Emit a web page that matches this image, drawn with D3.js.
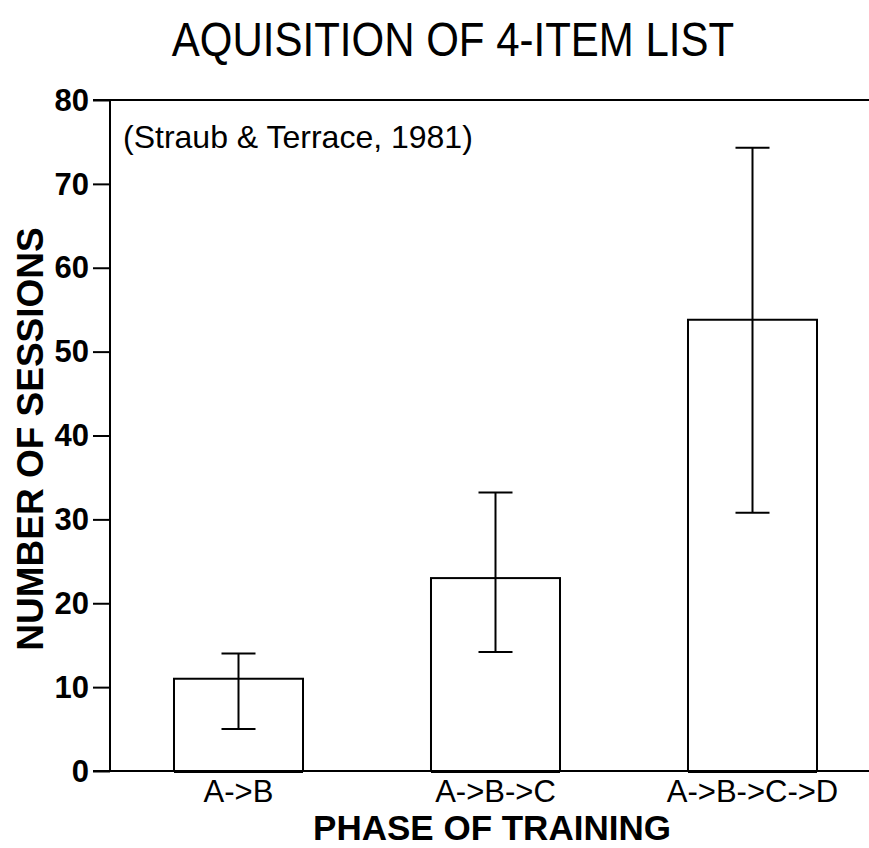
<!DOCTYPE html>
<head>
  <meta charset="utf-8">
  <script src="https://d3js.org/d3.v7.min.js"></script>
  <style>
    body { margin:0; background:#fff; }
    text { font-family: "Liberation Sans", Arial, sans-serif; fill:#000; }
  </style>
</head>

<body>
  <script>
    var phases = ['A->B', 'A->B->C', 'A->B->C->D'];
    var sessions = [11, 23, 53.8];
    var errLow = [5, 14.2, 30.8];
    var errHigh = [14, 33.2, 74.3];
    var yTicks = [0, 10, 20, 30, 40, 50, 60, 70, 80];

    var width = 869,
        height = 848;

    var svg = d3.select('body').append('svg')
      .attr('width', width)
      .attr('height', height);

    var x = d3.scaleBand()
      .domain(phases)
      .range([110, 881])
      .paddingInner(0.498)
      .paddingOuter(0.249);

    var y = d3.scaleLinear()
      .domain([0, 80])
      .range([771, 100]);

    // bars
    svg.selectAll('.bar')
      .data(phases)
      .enter().append('rect')
      .attr('class', 'bar')
      .attr('x', function(d) { return x(d); })
      .attr('y', function(d, i) { return y(sessions[i]); })
      .attr('width', x.bandwidth())
      .attr('height', function(d, i) { return y(0) - y(sessions[i]); })
      .style('fill', 'none')
      .style('stroke', '#000')
      .style('stroke-width', 2);

    // error bars
    var capW = 34;
    var eb = svg.selectAll('.err')
      .data(phases)
      .enter().append('g')
      .attr('class', 'err')
      .style('stroke', '#000')
      .style('stroke-width', 2);

    eb.append('line')
      .attr('x1', function(d) { return x(d) + x.bandwidth() / 2; })
      .attr('x2', function(d) { return x(d) + x.bandwidth() / 2; })
      .attr('y1', function(d, i) { return y(errLow[i]); })
      .attr('y2', function(d, i) { return y(errHigh[i]); });

    [errLow, errHigh].forEach(function(arr) {
      eb.append('line')
        .attr('x1', function(d) { return x(d) + x.bandwidth() / 2 - capW / 2; })
        .attr('x2', function(d) { return x(d) + x.bandwidth() / 2 + capW / 2; })
        .attr('y1', function(d, i) { return y(arr[i]); })
        .attr('y2', function(d, i) { return y(arr[i]); });
    });

    // thicker bottom edge of bars
    svg.selectAll('.base')
      .data(phases)
      .enter().append('line')
      .attr('x1', function(d) { return x(d); })
      .attr('x2', function(d) { return x(d) + x.bandwidth(); })
      .attr('y1', y(0) + 1)
      .attr('y2', y(0) + 1)
      .style('stroke', '#000')
      .style('stroke-width', 2);

    // y axis
    var yAxis = svg.append('g')
      .attr('transform', 'translate(110,0)')
      .call(d3.axisLeft(y).tickValues(yTicks).tickSize(17).tickPadding(4));
    yAxis.select('.domain').attr('d', 'M0,' + y(80) + 'V' + y(0));
    yAxis.selectAll('line, path').style('stroke', '#000').style('stroke-width', 2);
    yAxis.selectAll('text')
      .style('font-family', '"Liberation Sans", Arial, sans-serif')
      .style('font-size', '31px')
      .style('font-weight', 'bold')
      .attr('dy', '0.33em');

    // top and bottom frame lines
    [80, 0].forEach(function(v) {
      svg.append('line')
        .attr('x1', 93).attr('x2', width)
        .attr('y1', y(v)).attr('y2', y(v))
        .style('stroke', '#000')
        .style('stroke-width', 2);
    });

    // x tick labels
    svg.selectAll('.xlab')
      .data(phases)
      .enter().append('text')
      .attr('x', function(d) { return x(d) + x.bandwidth() / 2; })
      .attr('y', 802)
      .attr('text-anchor', 'middle')
      .style('font-size', '31px')
      .text(function(d) { return d; });

    // titles
    svg.append('text')
      .attr('text-anchor', 'middle')
      .attr('transform', 'translate(453,56) scale(1,1.15)')
      .style('font-size', '42px')
      .text('AQUISITION OF 4-ITEM LIST');

    svg.append('text')
      .attr('x', 123)
      .attr('y', 148)
      .style('font-size', '32px')
      .text('(Straub & Terrace, 1981)');

    svg.append('text')
      .attr('text-anchor', 'middle')
      .attr('transform', 'translate(43,439) rotate(-90)')
      .style('font-size', '37px')
      .style('font-weight', 'bold')
      .text('NUMBER OF SESSIONS');

    svg.append('text')
      .attr('x', 492)
      .attr('y', 840)
      .attr('text-anchor', 'middle')
      .style('font-size', '35px')
      .style('font-weight', 'bold')
      .text('PHASE OF TRAINING');
  </script>
</body>
